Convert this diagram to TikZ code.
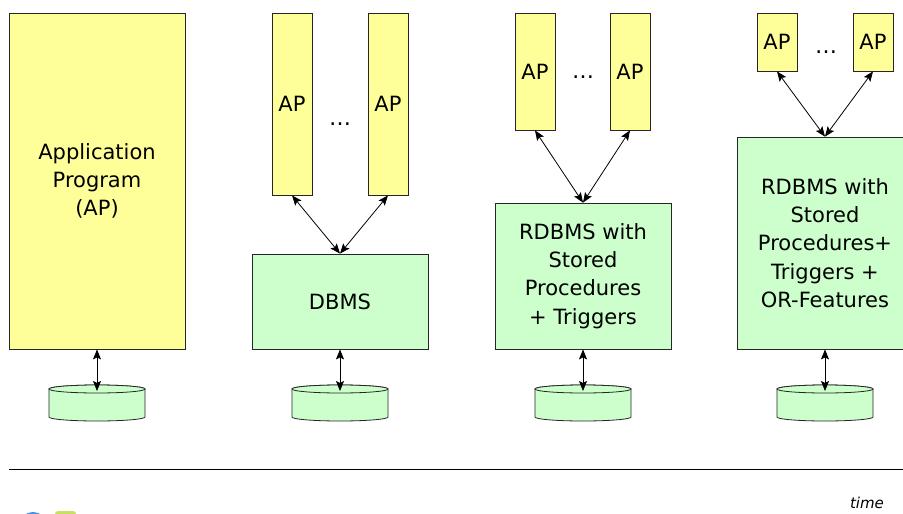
\documentclass[tikz,border=0pt]{standalone}
\usepackage{fontspec}
\setmainfont{DejaVu Sans}
\usetikzlibrary{arrows.meta,calc}
\definecolor{apyellow}{HTML}{FFFF99}
\definecolor{dbgreen}{HTML}{CCFFCC}
\definecolor{logoblue}{HTML}{4A90E2}
\definecolor{logogreen}{HTML}{C8E060}
\tikzset{
  box/.style={draw=black!85, line width=0.8pt, inner sep=0pt, align=center,
    font=\fontsize{21}{28.3}\selectfont},
  apbox/.style={box, fill=apyellow},
  dbbox/.style={box, fill=dbgreen},
  tip/.style={Stealth[length=10pt,width=8pt,inset=2pt]},
  link/.style={line width=0.8pt, {Stealth[length=10pt,width=8pt,inset=2pt]}-{Stealth[length=10pt,width=8pt,inset=2pt]}},
  dots/.style={font=\fontsize{22}{24}\selectfont},
  disk/.style={draw=black!85, line width=0.8pt, fill=dbgreen}
}
% a storage disk drawn as a short cylinder; #1 = centre x, #2 = name of its top point
\newcommand{\storagedisk}[2]{%
  \filldraw[disk] (#1-48,389) -- (#1-48,417) arc[start angle=180,end angle=0,x radius=48,y radius=4]
     -- (#1+48,389) arc[start angle=0,end angle=-180,x radius=48,y radius=4] -- cycle;
  \draw[disk] (#1,389) ellipse[x radius=48,y radius=4];
  \coordinate (#2) at (#1,391);
}
\begin{document}
\begin{tikzpicture}[x=1pt,y=-1pt]
\useasboundingbox (0,0) rectangle (903,514);
\clip (0,0) rectangle (903,514);

% ---- stage 1: one monolithic application program
\node[apbox, minimum width=176pt, minimum height=336pt] (ap1) at (97,181)
  {Application\\Program\\(AP)};
\storagedisk{97}{d1}
\draw[link] (ap1.south) -- (d1);

% ---- stage 2: several APs over a DBMS
\node[apbox, minimum width=40pt, minimum height=182pt] (ap2a) at (292,104) {AP};
\node[apbox, minimum width=40pt, minimum height=182pt] (ap2b) at (388,104) {AP};
\node[dots] (dots2) at (340,124) {\dots};
\node[dbbox, minimum width=176pt, minimum height=95pt] (db2) at (340,301.5) {DBMS};
\draw[link] (ap2a.south) -- (db2.north);
\draw[link] (ap2b.south) -- (db2.north);
\storagedisk{340}{d2}
\draw[link] (db2.south) -- (d2);

% ---- stage 3: RDBMS with stored procedures and triggers
\node[apbox, minimum width=40pt, minimum height=117pt] (ap3a) at (535,71.5) {AP};
\node[apbox, minimum width=40pt, minimum height=117pt] (ap3b) at (630,71.5) {AP};
\node[dots] (dots3) at (583,77) {\dots};
\node[dbbox, minimum width=176pt, minimum height=146pt] (db3) at (583,276)
  {RDBMS with\\Stored\\Procedures\\+ Triggers};
\draw[link] (ap3a.south) -- (db3.north);
\draw[link] (ap3b.south) -- (db3.north);
\storagedisk{583}{d3}
\draw[link] (db3.south) -- (d3);

% ---- stage 4: RDBMS with object-relational features
\node[apbox, minimum width=40pt, minimum height=58pt] (ap4a) at (777,42) {AP};
\node[apbox, minimum width=40pt, minimum height=58pt] (ap4b) at (873,42) {AP};
\node[dots] (dots4) at (826,52) {\dots};
\node[dbbox, minimum width=176pt, minimum height=212pt] (db4) at (825,243)
  {RDBMS with\\Stored\\Procedures+\\Triggers +\\OR-Features};
\draw[link] (ap4a.south) -- (db4.north);
\draw[link] (ap4b.south) -- (db4.north);
\storagedisk{825}{d4}
\draw[link] (db4.south) -- (d4);

% ---- time axis
\coordinate (axl) at (9,469);
\coordinate (axr) at (903,469);
\draw[line width=1pt] (axl) -- (axr);
\node[font=\fontsize{15}{18}\selectfont\itshape] (time) at (867,503) {time};

% ---- logo, mostly below the page edge
\fill[logoblue] (33,524) ellipse[x radius=13,y radius=12];
\fill[logogreen, rounded corners=3pt] (55,511) rectangle (76,530);
\end{tikzpicture}
\end{document}
